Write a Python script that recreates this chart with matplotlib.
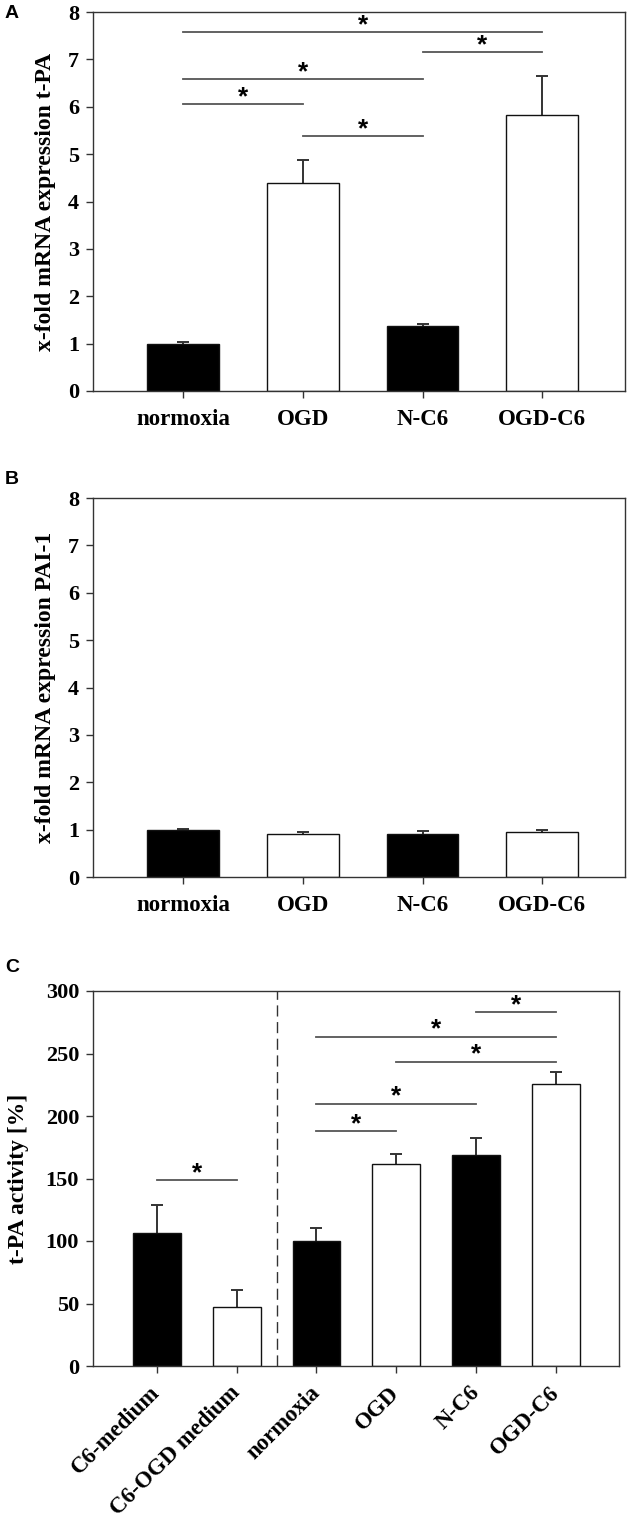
import matplotlib
matplotlib.use("Agg")
import matplotlib.pyplot as plt
import numpy as np

plt.rcParams['font.family'] = ['Liberation Serif', 'DejaVu Serif']
plt.rcParams['font.weight'] = 'bold'

# panel A: t-PA mRNA
groups = ['normoxia', 'OGD', 'N-C6', 'OGD-C6']
a_vals = [1.0, 4.40, 1.37, 5.82]
a_err = [0.03, 0.48, 0.05, 0.83]
a_sig_pairs = [(0, 3), (2, 3), (0, 2), (0, 1), (1, 2)]
a_sig_y = [7.57, 7.15, 6.59, 6.05, 5.38]

# panel B: PAI-1 mRNA
b_vals = [1.0, 0.90, 0.90, 0.95]
b_err = [0.02, 0.05, 0.07, 0.04]

# panel C: t-PA activity
c_groups = ['C6-medium', 'C6-OGD medium', 'normoxia', 'OGD', 'N-C6', 'OGD-C6']
c_vals = [106.5, 47.5, 100.0, 161.7, 169.0, 225.7]
c_err = [22.5, 13.0, 10.2, 7.9, 13.6, 9.3]
c_sig_pairs = [(0, 1), (2, 3), (2, 4), (3, 5), (2, 5), (4, 5)]
c_sig_y = [148.8, 188.0, 209.9, 243.6, 263.6, 283.2]

W, H = 630, 1523
fig = plt.figure(figsize=(W / 100, H / 100), dpi=100)


def box(l, r, t, b):
    return [l / W, 1 - b / H, (r - l) / W, (b - t) / H]


def style(ax):
    for s in ax.spines.values():
        s.set_linewidth(1.0)
        s.set_color('#333333')
    ax.tick_params(axis='both', direction='out', length=5, width=1, color='#333333')
    ax.tick_params(axis='y', labelsize=16, pad=5)
    ax.tick_params(axis='x', labelsize=16.5, pad=8)


def bars(ax, vals, errs):
    x = np.arange(len(vals))
    colors = ['black' if i % 2 == 0 else 'white' for i in range(len(vals))]
    ax.bar(x, vals, width=0.6, color=colors, edgecolor='#111111', linewidth=1.0, zorder=2)
    eb = ax.errorbar(x, vals, yerr=[np.zeros(len(vals)), errs], fmt='none', ecolor='#333333',
                     elinewidth=1.4, capsize=4, capthick=1.4, zorder=1)
    eb[1][0].set_visible(False)  # only the upper cap
    return x


def sig(ax, pairs, ys):
    for (i, j), y in zip(pairs, ys):
        ax.plot([i, j], [y, y], color='#555555', lw=1.3, zorder=3)
        ax.annotate('*', xy=((i + j) / 2, y), xytext=(0, 5), textcoords='offset points',
                    ha='center', va='center', fontsize=19, fontweight='bold',
                    family='Liberation Sans')


# A
axA = fig.add_axes(box(93, 625, 12, 391))
x = bars(axA, a_vals, a_err)
sig(axA, a_sig_pairs, a_sig_y)
axA.set_xlim(-0.75, 3.69)
axA.set_ylim(0, 8)
axA.set_xticks(x)
axA.set_xticklabels(groups)
style(axA)
axA.set_ylabel('x-fold mRNA expression t-PA', fontsize=17, fontweight='bold', va='center')
axA.yaxis.set_label_coords(-0.09, 0.5)

# B
axB = fig.add_axes(box(93, 625, 498, 877))
x = bars(axB, b_vals, b_err)
axB.set_xlim(-0.75, 3.69)
axB.set_ylim(0, 8)
axB.set_xticks(x)
axB.set_xticklabels(groups)
style(axB)
axB.set_ylabel('x-fold mRNA expression PAI-1', fontsize=17, fontweight='bold', va='center')
axB.yaxis.set_label_coords(-0.09, 0.5)

# C
axC = fig.add_axes(box(93, 619, 991, 1366))
x = bars(axC, c_vals, c_err)
sig(axC, c_sig_pairs, c_sig_y)
axC.axvline(1.5, color='#333333', lw=1.0, ls=(0, (8, 4)), zorder=1)
axC.set_xlim(-0.8, 5.79)
axC.set_ylim(0, 300)
axC.set_yticks(np.arange(0, 301, 50))
axC.set_xticks(x)
axC.set_xticklabels(c_groups, rotation=45, ha='right', va='center', rotation_mode='anchor')
style(axC)
axC.tick_params(axis='x', pad=12)
axC.set_ylabel('t-PA activity [%]', fontsize=17, fontweight='bold', va='center')
axC.yaxis.set_label_coords(-0.142, 0.5)

for lab, yy in [('A', 14), ('B', 479), ('C', 968)]:
    fig.text(12 / W, 1 - yy / H, lab, ha='center', va='center', fontsize=14,
             fontweight='bold', family='Liberation Sans')

fig.savefig('out.png', dpi=100)
